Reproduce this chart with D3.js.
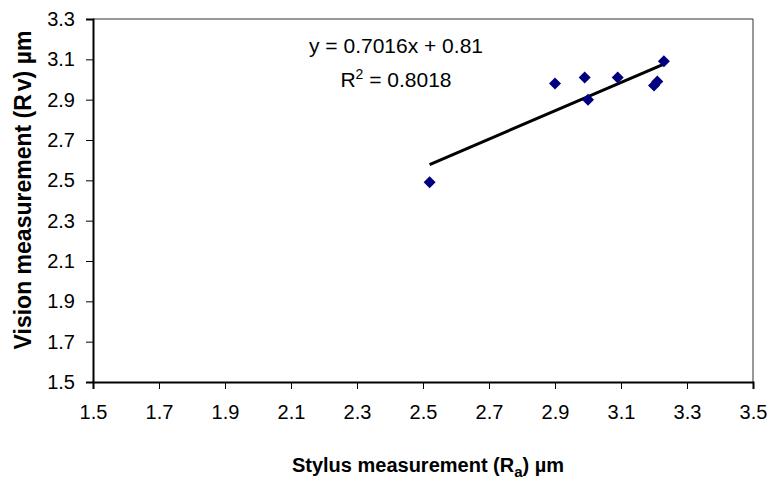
<!DOCTYPE html>
<html>
<head>
<meta charset="utf-8">
<script src="https://cdn.jsdelivr.net/npm/d3@7/dist/d3.min.js"></script>
<style>
  html, body { margin: 0; padding: 0; background: #fff; }
  svg { display: block; font-family: "Liberation Sans", Arial, sans-serif; }
</style>
</head>
<body>
<svg id="chart" width="772" height="482"></svg>
<script>
// Data
const stylusRa = [2.52, 2.90, 2.99, 3.00, 3.09, 3.20, 3.21, 3.23];
const visionRv = [2.49, 2.98, 3.01, 2.90, 3.01, 2.97, 2.99, 3.09];
const xTicks = [1.5, 1.7, 1.9, 2.1, 2.3, 2.5, 2.7, 2.9, 3.1, 3.3, 3.5];
const yTicks = [1.5, 1.7, 1.9, 2.1, 2.3, 2.5, 2.7, 2.9, 3.1, 3.3];
const trendSlope = 0.7016;
const trendIntercept = 0.81;
const rSquared = 0.8018;

const svg = d3.select("#chart");
const plotL = 93, plotR = 753, plotT = 19, plotB = 382;

const x = d3.scaleLinear().domain([1.5, 3.5]).range([plotL, plotR]);
const y = d3.scaleLinear().domain([1.5, 3.3]).range([plotB, plotT]);

// top & right border of plot area
svg.append("path")
  .attr("d", `M${plotL},${plotT}H${plotR}V${plotB}`)
  .attr("fill", "none").attr("stroke", "#333").attr("stroke-width", 1);

// X axis
const xAxis = svg.append("g").attr("transform", `translate(0,${plotB})`)
  .call(d3.axisBottom(x).tickValues(xTicks).tickFormat(d3.format(".1f")).tickSizeOuter(0).tickSize(7).tickPadding(16));
xAxis.select(".domain").attr("stroke", "#000").attr("stroke-width", 2);
xAxis.selectAll(".tick line").attr("stroke", "#000").attr("stroke-width", 1);
xAxis.selectAll("text").attr("font-size", 20).attr("fill", "#000")
  .attr("font-family", "Liberation Sans, Arial, sans-serif");

// Y axis
const yAxis = svg.append("g").attr("transform", `translate(${plotL},0)`)
  .call(d3.axisLeft(y).tickValues(yTicks).tickFormat(d3.format(".1f")).tickSizeOuter(0).tickSize(7).tickPadding(11));
yAxis.select(".domain").attr("stroke", "#000").attr("stroke-width", 2);
yAxis.selectAll(".tick line").attr("stroke", "#000").attr("stroke-width", 1);
yAxis.selectAll("text").attr("font-size", 20).attr("fill", "#000")
  .attr("font-family", "Liberation Sans, Arial, sans-serif");

// Trend line
const xMin = d3.min(stylusRa), xMax = d3.max(stylusRa);
svg.append("line")
  .attr("x1", x(xMin)).attr("y1", y(trendSlope * xMin + trendIntercept))
  .attr("x2", x(xMax)).attr("y2", y(trendSlope * xMax + trendIntercept))
  .attr("stroke", "#000").attr("stroke-width", 3);

// Points (diamonds)
const pts = stylusRa.map((v, i) => ({ x: v, y: visionRv[i] }));
svg.append("g").selectAll("path").data(pts).join("path")
  .attr("transform", d => `translate(${x(d.x)},${y(d.y)})`)
  .attr("d", "M0,-6L6,0L0,6L-6,0Z")
  .attr("fill", "#000080");

// Equation labels
svg.append("text").attr("x", 396).attr("y", 53).attr("text-anchor", "middle")
  .attr("font-size", 21).attr("fill", "#000")
  .text(`y = ${trendSlope}x + ${trendIntercept}`);
const r2 = svg.append("text").attr("x", 396).attr("y", 87).attr("text-anchor", "middle")
  .attr("font-size", 21).attr("fill", "#000");
r2.append("tspan").text("R");
r2.append("tspan").attr("dy", -8).attr("font-size", 14).text("2");
r2.append("tspan").attr("dy", 8).text(` = ${rSquared}`);

// Axis titles
const xt = svg.append("text").attr("x", 428).attr("y", 472).attr("text-anchor", "middle")
  .attr("font-size", 20).attr("font-weight", "bold").attr("fill", "#000");
xt.append("tspan").text("Stylus measurement (R");
xt.append("tspan").attr("dy", 5).attr("font-size", 15).text("a");
xt.append("tspan").attr("dy", -5).text(") µm");

const yt = svg.append("text").attr("transform", "translate(31,190) rotate(-90)")
  .attr("text-anchor", "middle").attr("font-size", 23).attr("font-weight", "bold").attr("fill", "#000");
yt.append("tspan").text("Vision measurement (R");
yt.append("tspan").attr("dx", 3).text("v");
yt.append("tspan").text(") µm");
</script>
</body>
</html>
